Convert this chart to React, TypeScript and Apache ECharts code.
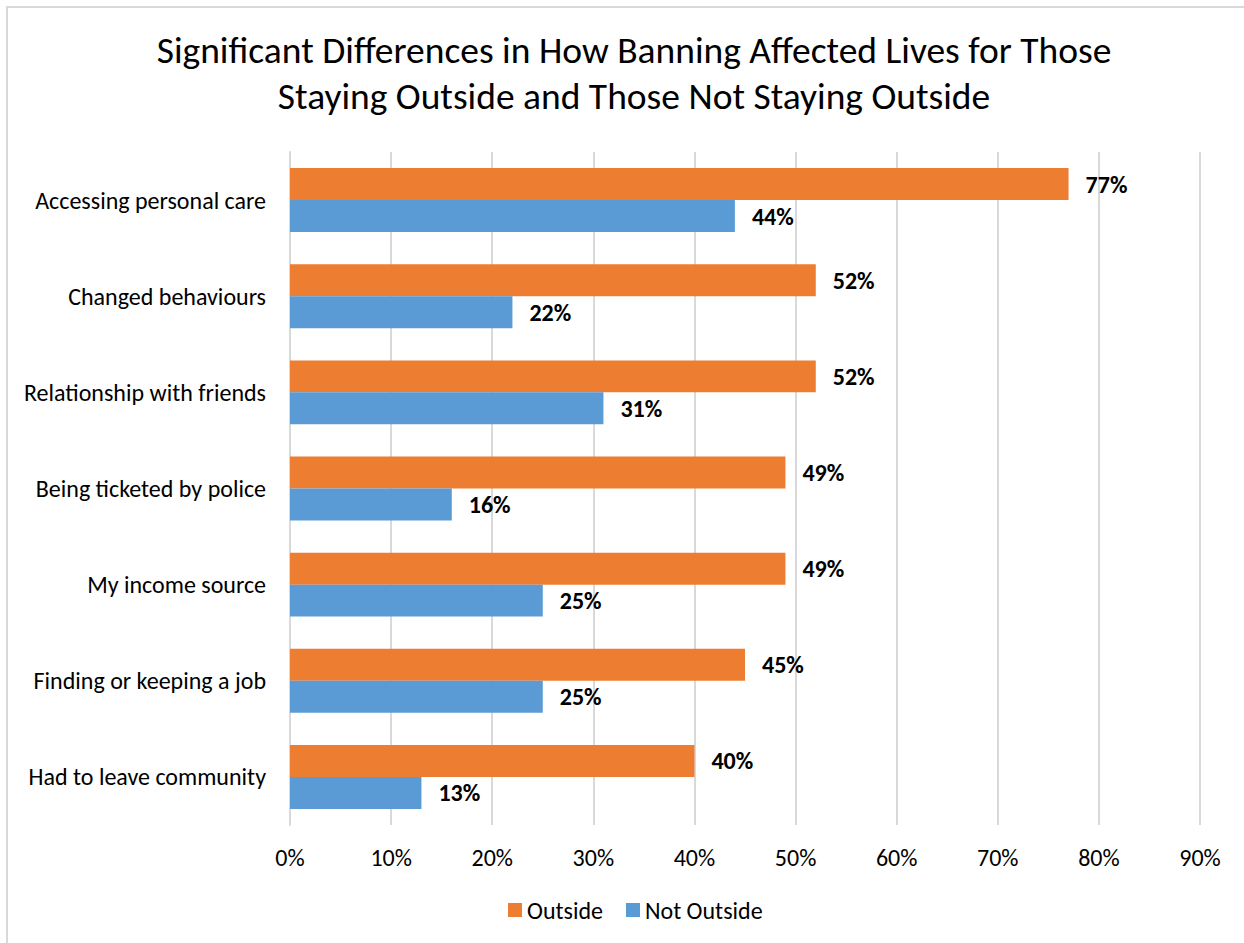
import React, { useEffect, useRef } from "react";
import * as echarts from "echarts";

const categories = [
  "Accessing personal care",
  "Changed behaviours",
  "Relationship with friends",
  "Being ticketed by police",
  "My income source",
  "Finding or keeping a job",
  "Had to leave community",
];
const outsideValues = [77, 52, 52, 49, 49, 45, 40];
const notOutsideValues = [44, 22, 31, 16, 25, 25, 13];
const seriesNames = ["Outside", "Not Outside"];
const titleLines = [
  "Significant Differences in How Banning Affected Lives for Those",
  "Staying Outside and Those Not Staying Outside",
];

const FONT = "Carlito, Calibri, 'Open Sans', sans-serif";

export default function App() {
  const ref = useRef<HTMLDivElement>(null);
  useEffect(() => {
    if (!ref.current) return;
    const chart = echarts.init(ref.current, null, { renderer: "svg" });
    chart.setOption({
      animation: false,
      backgroundColor: "#ffffff",
      textStyle: { fontFamily: FONT },
      graphic: [
        {
          type: "rect",
          shape: { x: 7, y: 7, width: 1300, height: 1000 },
          style: { fill: "none", stroke: "#d9d9d9", lineWidth: 2 },
          silent: true,
        },
      ],
      title: {
        text: titleLines.join("\n"),
        left: 629,
        textAlign: "center",
        top: 22,
        textStyle: {
          fontFamily: FONT,
          fontSize: 37.5,
          fontWeight: "normal",
          color: "#000000",
          lineHeight: 46,
        },
      },
      legend: {
        data: seriesNames,
        left: 503,
        top: 893,
        icon: "rect",
        itemWidth: 14,
        itemHeight: 14,
        itemGap: 23,
        textStyle: { fontFamily: FONT, fontSize: 24, color: "#000" },
      },
      grid: { left: 290, right: 44, top: 152, bottom: 118, containLabel: false },
      xAxis: {
        type: "value",
        min: 0,
        max: 90,
        interval: 10,
        axisLine: { show: false },
        axisTick: { show: false },
        axisLabel: {
          formatter: "{value}%",
          fontFamily: FONT,
          fontSize: 24,
          color: "#000",
          margin: 20,
        },
        splitLine: { lineStyle: { color: "#d9d9d9", width: 2 } },
      },
      yAxis: {
        type: "category",
        data: categories,
        inverse: true,
        axisLine: { show: true, lineStyle: { color: "#d9d9d9", width: 2 } },
        axisTick: { show: false },
        axisLabel: {
          fontFamily: FONT,
          fontSize: 24,
          color: "#000",
          margin: 24,
        },
      },
      series: [
        {
          name: seriesNames[0],
          type: "bar",
          data: outsideValues,
          itemStyle: { color: "#ED7D31" },
          barCategoryGap: "33.5%",
          barGap: "0%",
          label: {
            show: true,
            position: "right",
            distance: 17,
            formatter: "{c}%",
            fontFamily: FONT,
            fontSize: 24,
            fontWeight: "bold",
            color: "#000",
          },
        },
        {
          name: seriesNames[1],
          type: "bar",
          data: notOutsideValues,
          itemStyle: { color: "#5B9BD5" },
          barCategoryGap: "33.5%",
          barGap: "0%",
          label: {
            show: true,
            position: "right",
            distance: 17,
            formatter: "{c}%",
            fontFamily: FONT,
            fontSize: 24,
            fontWeight: "bold",
            color: "#000",
          },
        },
      ],
    });
    return () => chart.dispose();
  }, []);
  return (
    <div
      ref={ref}
      style={{ position: "absolute", left: 0, top: 0, width: 1244, height: 943 }}
    />
  );
}
